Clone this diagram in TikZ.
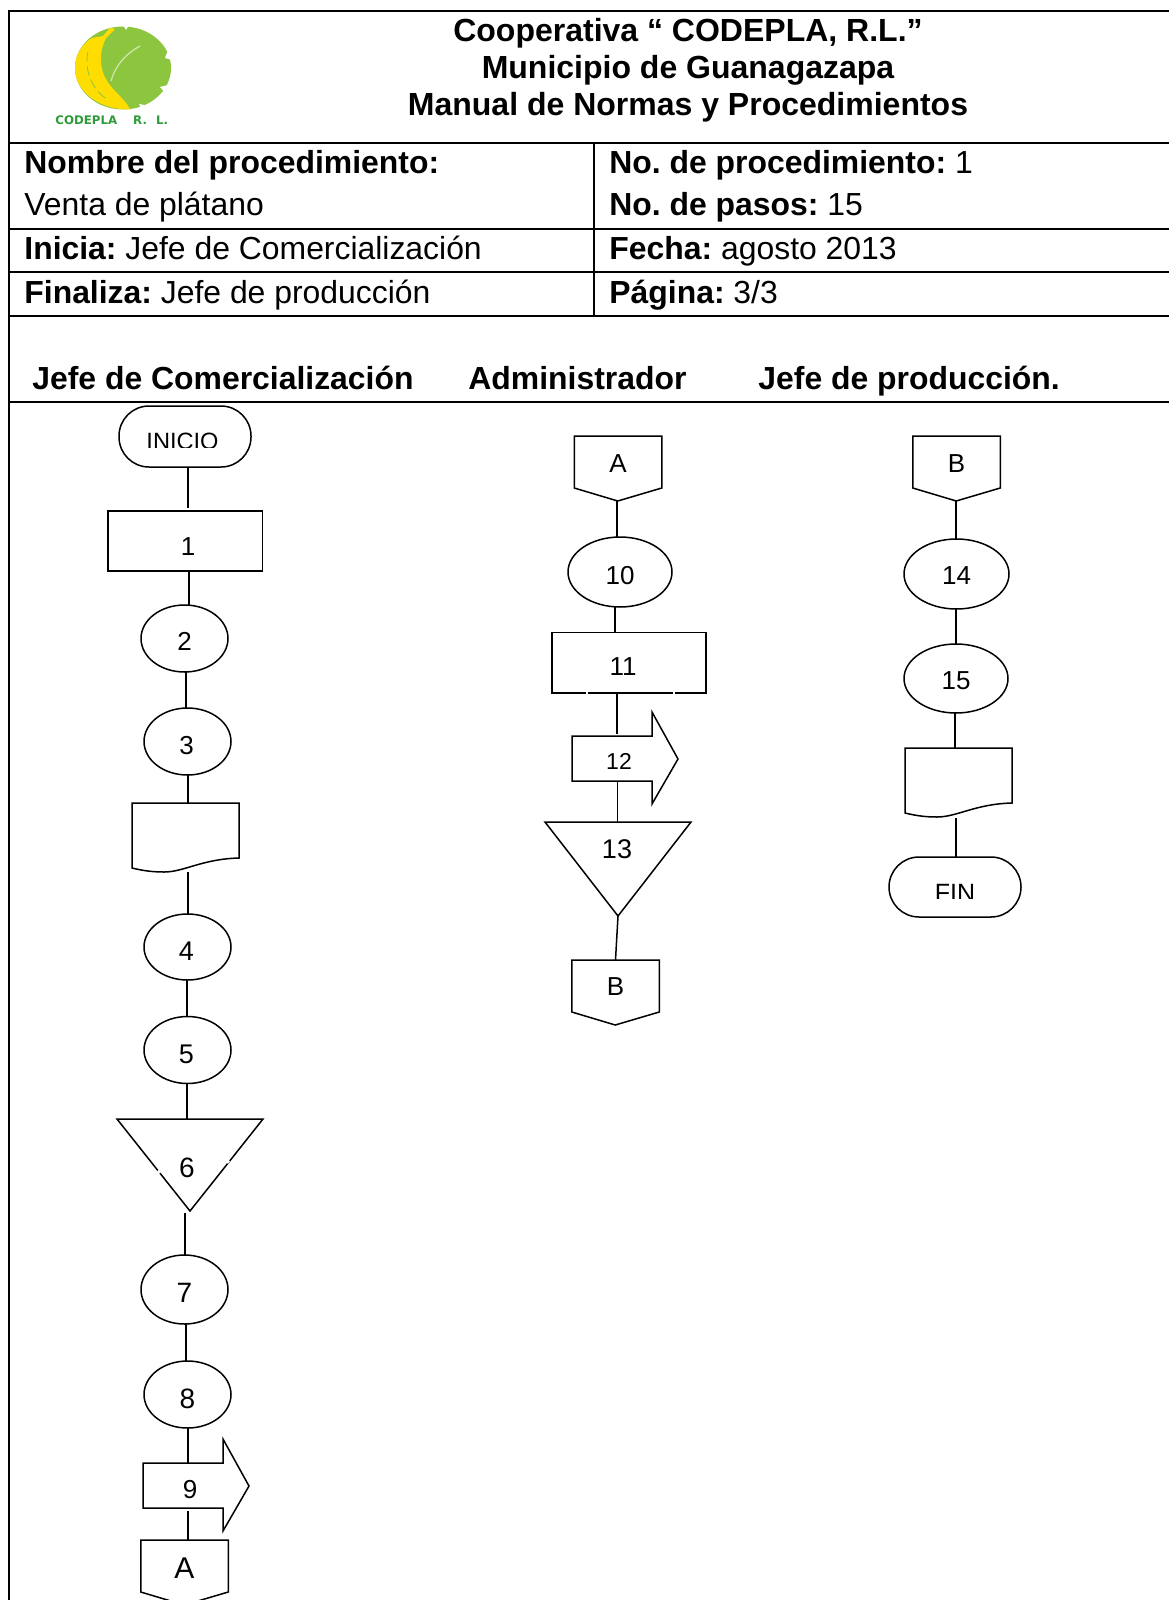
\documentclass[tikz,border=0pt]{standalone}
\usepackage{fontspec}
\setmainfont{Liberation Sans}
\newfontfamily\logofont{DejaVu Sans}
\usetikzlibrary{shapes.geometric}
\frenchspacing
\tikzset{
  x=0.5pt,y=-0.5pt,
  frame/.style={line width=1pt,black},
  conn/.style={line width=0.75pt,black},
  outline/.style={line width=0.75pt,black,line join=miter},
  ell/.style 2 args={shape=ellipse,draw,line width=0.75pt,minimum width=#1*0.5pt,minimum height=#2*0.5pt,inner sep=0pt,outer sep=0pt},
  rct/.style 2 args={shape=rectangle,draw,line width=0.75pt,minimum width=#1*0.5pt,minimum height=#2*0.5pt,inner sep=0pt,outer sep=0pt},
  rnd/.style 2 args={shape=rectangle,rounded corners=15pt,draw,line width=0.75pt,minimum width=#1*0.5pt,minimum height=#2*0.5pt,inner sep=0pt,outer sep=0pt},
  hull/.style 2 args={shape=rectangle,minimum width=#1*0.5pt,minimum height=#2*0.5pt,inner sep=0pt,outer sep=0pt},
  lb/.style n args={4}{label={[font=\fontsize{#1}{#1}\selectfont,inner sep=0pt,xshift=#2*0.5pt,yshift=-#3*0.5pt]center:#4}},
  tbl/.style={anchor=base west,inner sep=0pt,font=\fontsize{15.95}{17}\selectfont},
  ttl/.style={anchor=base,inner sep=0pt,font=\fontsize{16}{17}\selectfont\bfseries},
  gap/.style={white,line width=1.2pt},
}
\newcommand\docout[1]{\draw[outline,shift={(#1.north west)}] (0,0) -- (107,0) -- (107,55) .. controls (70,56) and (52,69) .. (32,69) .. controls (22,69) and (12,68) .. (0,65) -- cycle;}
\newcommand\triout[1]{\draw[outline] (#1.north west) -- (#1.north east) -- (#1.south) -- cycle;}
\newcommand\offout[1]{\draw[outline,shift={(#1.north west)}] (0,0) -- (87.5,0) -- (87.5,52) -- (43.5,65) -- (0,52) -- cycle;}
\newcommand\arrout[1]{\draw[outline,shift={(#1.north west)}] (0,24) -- (80,24) -- (80,0) -- (106,47) -- (80,92) -- (80,69) -- (0,69) -- cycle;}
\begin{document}
\begin{tikzpicture}
\useasboundingbox (0,0) rectangle (1169,1600);
\clip (0,0) rectangle (1169,1600);
% logo
\definecolor{leaf}{HTML}{8CC63F}
\definecolor{banana}{HTML}{FFDD00}
\definecolor{logotx}{HTML}{2E9B3A}
\fill[leaf] (123,68) ellipse [x radius=48,y radius=41.5];
\fill[white] (123,25) -- (126,30) -- (129,25) -- cycle;
\fill[white] (172,60) -- (165,58) -- (168,50) -- (172,50) -- cycle;
\fill[white] (172,84) -- (160,87) -- (166,94) -- cycle;
\fill[white] (150,106) -- (139,104) -- (143,112) -- cycle;
\draw[white!60!leaf,line width=0.6pt] (111,81) .. controls (116,64) and (126,54) .. (140,46);
\fill[banana] (115,29) -- (110,28) -- (103,36) -- (92,38) .. controls (82,44) and (75,55) .. (75,68) .. controls (75,92) and (100,110) .. (130,109.5) .. controls (124,95) and (101,86) .. (101,60) .. controls (101,50) and (103,44) .. (106,38) -- cycle;
\draw[leaf,line width=0.4pt,dash pattern=on 5pt off 2pt] (88,52) .. controls (84,70) and (92,90) .. (108,100);
\node[anchor=base west,inner sep=0pt,text=logotx,font=\logofont\fontsize{5.9}{6}\selectfont\bfseries] (logotext) at (55,125) {CODEPLA\hspace{8pt}R.\hspace{4.5pt}L.};
% frame and table
\draw[frame] (9,1600) -- (9,11) -- (1169,11);
\draw[frame] (9,142.5) -- (1169,142.5);
\draw[frame] (9,228.5) -- (1169,228.5);
\draw[frame] (9,271.5) -- (1169,271.5);
\draw[frame] (9,315.5) -- (1169,315.5);
\draw[frame] (9,402) -- (1169,402);
\draw[line width=0.8pt] (594,142.5) -- (594,315);
\node[ttl] (t1) at (688,41.5) {Cooperativa “ CODEPLA, R.L.”};
\node[ttl] (t2) at (688,78.5) {Municipio de Guanagazapa};
\node[ttl] (t3) at (688,115.5) {Manual de Normas y Procedimientos};
\node[tbl] (c1) at (24,173) {\textbf{Nombre del procedimiento:}};
\node[tbl] (c2) at (24,215.5) {Venta de plátano};
\node[tbl] (c3) at (24,259.5) {\textbf{Inicia:} Jefe de Comercialización};
\node[tbl] (c4) at (24,303.5) {\textbf{Finaliza:} Jefe de producción};
\node[tbl] (d1t) at (609,173) {\textbf{No. de procedimiento:} 1};
\node[tbl] (d2t) at (609,215.5) {\textbf{No. de pasos:} 15};
\node[tbl] (d3t) at (609,259.5) {\textbf{Fecha:} agosto 2013};
\node[tbl] (d4t) at (609,303.5) {\textbf{Página:} 3/3};
\node[tbl] (h1) at (32,389.5) {\textbf{Jefe de Comercialización}};
\node[tbl] (h2) at (468,389.5) {\textbf{Administrador}};
\node[tbl] (h3) at (758,389.5) {\textbf{Jefe de producción.}};
% column 1 shapes
\node[rnd={132}{61}] (ini) at (185,436.5) {};
\begin{scope}\clip (100,410) rectangle (270,447);\node[inner sep=0pt,font=\fontsize{11.8}{12}\selectfont] (initx) at (182.5,441) {INICIO};\end{scope}
\node[rct={154.5}{60},lb={13}{3}{6}{1}] (r1) at (185.2,541) {};
\node[ell={87}{67},lb={13}{0}{3}{2}] (e2) at (184.5,638.5) {};
\node[ell={87}{67},lb={13}{-1}{4}{3}] (e3) at (187.5,741.5) {};
\node[hull={107}{69}] (d1) at (185.5,837.5) {};
\node[ell={87}{66},lb={13.5}{-1}{4}{4}] (e4) at (187.5,947) {};
\node[ell={87}{67},lb={13.5}{-1}{4}{5}] (e5) at (187.5,1050) {};
\node[hull={146}{92},lb={14}{-3}{2.5}{6}] (tr6) at (190,1165) {};
\node[ell={87}{69},lb={14}{0}{3}{7}] (e7) at (184.5,1289.5) {};
\node[ell={87}{67},lb={14}{0}{4}{8}] (e8) at (187.5,1394.5) {};
\node[hull={106}{92},lb={13}{-6}{5}{9}] (a9) at (196,1485) {};
\node[hull={87.5}{65},lb={15}{0}{-4}{A}] (o1) at (184.5,1572.5) {};
% column 2 shapes
\node[hull={87.5}{65},lb={13}{0}{-5}{A}] (o2) at (618,468.5) {};
\node[ell={104}{70},lb={13}{0}{4}{10}] (e10) at (620,572) {};
\node[rct={154}{60.5},lb={13}{-6}{4}{11}] (r11) at (629,662.7) {};
\node[hull={106}{91},lb={11.5}{-6}{3.5}{12}] (a12) at (625,757.5) {};
\node[hull={146}{94},lb={13.5}{-1}{-20}{13}] (tr13) at (618,869) {};
\node[hull={87.5}{65},lb={13}{0}{-6}{B}] (o3) at (615.5,992.5) {};
% column 3 shapes
\node[hull={87.5}{65},lb={13}{0}{-5}{B}] (o4) at (956.5,468.5) {};
\node[ell={105}{70},lb={13}{0}{2}{14}] (e14) at (956.5,574) {};
\node[ell={104}{69},lb={13}{0}{2}{15}] (e15) at (956,678.5) {};
\node[hull={107}{69}] (d2) at (958.5,782.5) {};
\node[rnd={132}{60}] (fin) at (955,887) {};
\begin{scope}\clip (880,860) rectangle (1030,898);\node[inner sep=0pt,font=\fontsize{12.5}{13}\selectfont] (fintx) at (955,893) {FIN};\end{scope}
% custom outlines
\docout{d1}\docout{d2}
\triout{tr6}\triout{tr13}
\offout{o1}\offout{o2}\offout{o3}\offout{o4}
\arrout{a9}\arrout{a12}
\draw[gap] (158,1170.5) -- (160,1173);
\draw[gap] (227,1163) -- (229,1160.5);
\draw[gap] (586,693) -- (588,693);
\draw[gap] (673,693) -- (675,693);
% connectors
\draw[conn] (188,0 |- ini.south) -- (188,508);
\draw[conn] (189,0 |- r1.south) -- (189,0 |- e2.north);
\draw[conn] (186,0 |- e2.south) -- (186,0 |- e3.north);
\draw[conn] (188,0 |- e3.south) -- (188,0 |- d1.north);
\draw[conn] (188,872) -- (188,0 |- e4.north);
\draw[conn] (187,0 |- e4.south) -- (187,0 |- e5.north);
\draw[conn] (187,0 |- e5.south) -- (187,0 |- tr6.north);
\draw[conn] (185,1213) -- (185,0 |- e7.north);
\draw[conn] (186,0 |- e7.south) -- (186,0 |- e8.north);
\draw[conn] (188,0 |- e8.south) -- (188,1463);
\draw[conn] (188,1511) -- (188,0 |- o1.north);
\draw[conn] (617,501) -- (617,0 |- e10.north);
\draw[conn] (615,0 |- e10.south) -- (615,0 |- r11.north);
\draw[conn] (617,0 |- r11.south) -- (617,734);
\draw[conn] (617.5,781) -- (617.5,0 |- tr13.north);
\draw[conn] (tr13.south) -- (o3.north);
\draw[conn] (956,501) -- (956,0 |- e14.north);
\draw[conn] (956,0 |- e14.south) -- (956,0 |- e15.north);
\draw[conn] (955,0 |- e15.south) -- (955,0 |- d2.north);
\draw[conn] (956,818) -- (956,0 |- fin.north);
\end{tikzpicture}
\end{document}
